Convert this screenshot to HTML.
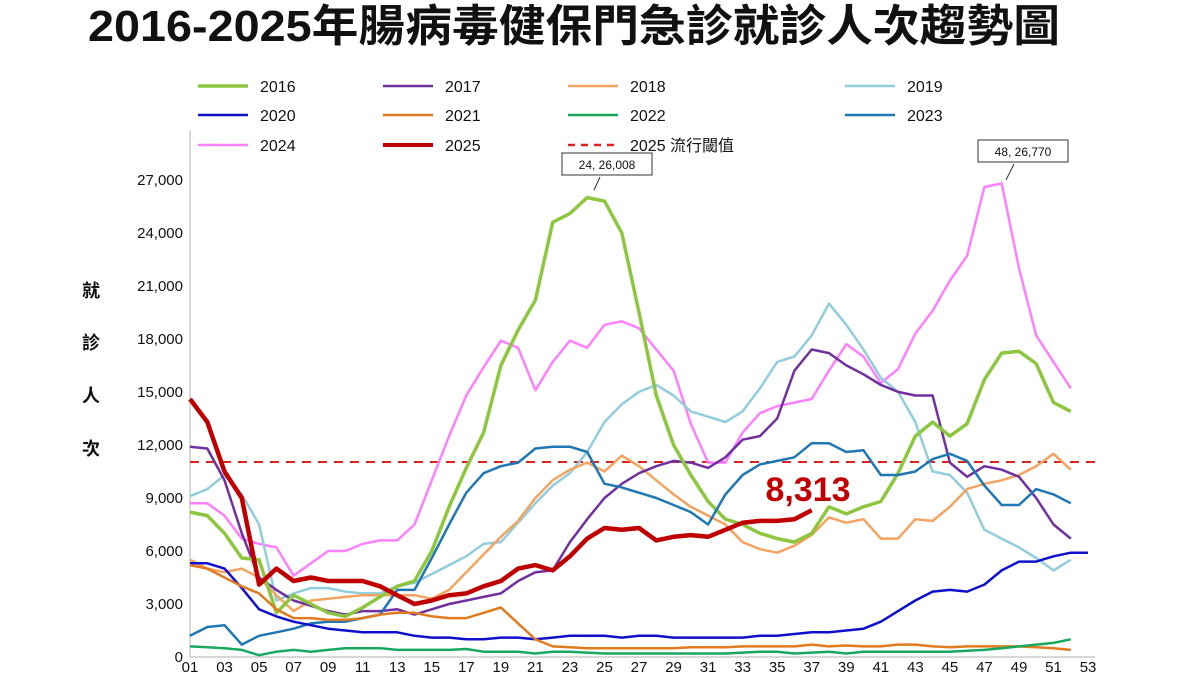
<!DOCTYPE html>
<html><head><meta charset="utf-8"><style>
body{margin:0;background:#fff;width:1200px;height:675px;overflow:hidden;font-family:"Liberation Sans","Noto Sans CJK TC",sans-serif}
</style></head><body>
<svg id="s" width="1200" height="675" xmlns="http://www.w3.org/2000/svg" font-family="Liberation Sans, Noto Sans CJK TC, sans-serif">
<text x="88" y="41" font-size="44" font-weight="bold" fill="#111" textLength="972" lengthAdjust="spacingAndGlyphs">2016-2025年腸病毒健保門急診就診人次趨勢圖</text>
<line x1="190" y1="130" x2="190" y2="657" stroke="#ccc" stroke-width="1.5"/>
<line x1="190" y1="657" x2="1095" y2="657" stroke="#ccc" stroke-width="1.5"/>
<g font-size="15" fill="#111" text-anchor="end" id="yl"></g>
<g font-size="15" fill="#111" text-anchor="middle" id="xl"></g>
<g font-size="18" font-weight="bold" fill="#111" text-anchor="middle">
<text x="91" y="297">就</text><text x="91" y="349">診</text><text x="91" y="402">人</text><text x="91" y="455">次</text></g>
<line x1="190" y1="462" x2="1100" y2="462" stroke="#d22" stroke-width="2" stroke-dasharray="9,7"/>
<g id="lines" fill="none" stroke-linejoin="round"></g>
<g font-size="16" fill="#111" id="leg"></g>
<rect x="562" y="153" width="90" height="22" fill="#fff" stroke="#333"/>
<text x="607" y="169" font-size="12" text-anchor="middle" fill="#111">24, 26,008</text>
<line x1="600" y1="177" x2="594" y2="190" stroke="#333"/>
<rect x="978" y="140" width="90" height="22" fill="#fff" stroke="#333"/>
<text x="1023" y="156" font-size="12" text-anchor="middle" fill="#111">48, 26,770</text>
<line x1="1014" y1="164" x2="1006" y2="180" stroke="#333"/>
<text x="808" y="501" font-size="34" font-weight="bold" text-anchor="middle" fill="#c00000">8,313</text>
</svg>
<script>
var NS="http://www.w3.org/2000/svg";
function el(p,t,a,txt){var e=document.createElementNS(NS,t);for(var k in a)e.setAttribute(k,a[k]);if(txt!=null)e.textContent=txt;document.getElementById(p).appendChild(e);return e;}
for(var i=0;i<=9;i++){var v=i*3000;el("yl","text",{x:183,y:657-i*53+5},v==0?"0":v.toLocaleString("en-US"));}
for(var w=1;w<=53;w+=2){el("xl","text",{x:190+(w-1)*17.27,y:672},(w<10?"0":"")+w);}
var S=[
["#ff80ff",2.5,[8.7,8.7,8.0,6.7,6.4,6.2,4.6,5.3,6.0,6.0,6.4,6.6,6.6,7.5,10.0,12.5,14.8,16.4,17.9,17.5,15.1,16.7,17.9,17.5,18.8,19.0,18.6,17.4,16.2,13.2,11.0,11.0,12.7,13.8,14.2,14.4,14.6,16.2,17.7,17.0,15.5,16.3,18.3,19.6,21.3,22.7,26.6,26.8,22.0,18.2,16.7,15.2]],
["#92cddc",2.5,[9.1,9.5,10.3,9.2,7.5,3.2,3.6,3.9,3.9,3.7,3.6,3.6,4.0,4.2,4.7,5.2,5.7,6.4,6.5,7.6,8.7,9.7,10.4,11.6,13.3,14.3,15.0,15.4,14.8,13.9,13.6,13.3,13.9,15.2,16.7,17.0,18.2,20.0,18.8,17.4,15.8,15.0,13.3,10.5,10.3,9.3,7.2,6.7,6.2,5.6,4.9,5.5]],
["#f4a460",2.5,[5.5,5.0,4.8,5.0,4.5,3.5,2.6,3.2,3.3,3.4,3.5,3.5,3.5,3.5,3.3,3.8,4.8,5.8,6.8,7.7,9.0,10.0,10.6,11.0,10.5,11.4,10.8,10.0,9.2,8.5,8.0,7.5,6.5,6.1,5.9,6.3,6.9,7.9,7.6,7.8,6.7,6.7,7.8,7.7,8.5,9.5,9.8,10.0,10.3,10.8,11.5,10.6]],
["#7030a0",2.5,[11.9,11.8,10.0,7.0,4.5,3.8,3.2,2.9,2.6,2.4,2.6,2.6,2.7,2.4,2.7,3.0,3.2,3.4,3.6,4.3,4.8,4.9,6.5,7.8,9.0,9.8,10.4,10.8,11.1,11.0,10.7,11.3,12.3,12.5,13.5,16.2,17.4,17.2,16.5,16.0,15.4,15.0,14.8,14.8,11.0,10.2,10.8,10.6,10.2,9.0,7.5,6.7]],
["#8dc63f",3.5,[8.2,8.0,7.0,5.6,5.5,2.5,3.5,3.0,2.5,2.3,2.8,3.4,4.0,4.3,6.0,8.5,10.7,12.7,16.5,18.5,20.2,24.6,25.1,26.0,25.8,24.0,19.5,14.8,12.0,10.3,8.8,7.8,7.5,7.0,6.7,6.5,7.0,8.5,8.1,8.5,8.8,10.4,12.5,13.3,12.5,13.2,15.7,17.2,17.3,16.6,14.4,13.9]],
["#1f77b4",2.5,[1.2,1.7,1.8,0.7,1.2,1.4,1.6,1.9,2.0,2.0,2.2,2.4,3.8,3.8,5.6,7.5,9.3,10.4,10.8,11.0,11.8,11.9,11.9,11.6,9.8,9.6,9.3,9.0,8.6,8.2,7.5,9.2,10.3,10.9,11.1,11.3,12.1,12.1,11.6,11.7,10.3,10.3,10.5,11.2,11.5,11.1,9.7,8.6,8.6,9.5,9.2,8.7]],
["#1010cc",2.5,[5.3,5.3,5.0,3.9,2.7,2.3,2.0,1.8,1.6,1.5,1.4,1.4,1.4,1.2,1.1,1.1,1.0,1.0,1.1,1.1,1.0,1.1,1.2,1.2,1.2,1.1,1.2,1.2,1.1,1.1,1.1,1.1,1.1,1.2,1.2,1.3,1.4,1.4,1.5,1.6,2.0,2.6,3.2,3.7,3.8,3.7,4.1,4.9,5.4,5.4,5.7,5.9,5.9]],
["#e07b20",2.5,[5.2,5.0,4.5,4.0,3.6,2.7,2.2,2.2,2.1,2.1,2.2,2.4,2.5,2.5,2.3,2.2,2.2,2.5,2.8,1.9,1.0,0.6,0.55,0.5,0.5,0.5,0.5,0.5,0.5,0.55,0.55,0.55,0.6,0.6,0.6,0.6,0.7,0.6,0.65,0.6,0.6,0.7,0.7,0.6,0.55,0.6,0.6,0.6,0.6,0.55,0.5,0.4]],
["#1aa860",2.5,[0.6,0.55,0.5,0.4,0.1,0.3,0.4,0.3,0.4,0.5,0.5,0.5,0.4,0.4,0.4,0.4,0.45,0.3,0.3,0.3,0.2,0.3,0.3,0.25,0.2,0.2,0.2,0.2,0.2,0.2,0.2,0.2,0.25,0.3,0.3,0.2,0.25,0.3,0.2,0.3,0.3,0.3,0.3,0.3,0.3,0.35,0.4,0.5,0.6,0.7,0.8,1.0]],
["#c00000",4.5,[14.6,13.3,10.5,9.0,4.1,5.0,4.3,4.5,4.3,4.3,4.3,4.0,3.5,3.0,3.2,3.5,3.6,4.0,4.3,5.0,5.2,4.9,5.7,6.7,7.3,7.2,7.3,6.6,6.8,6.9,6.8,7.2,7.6,7.7,7.7,7.8,8.3]]
];
S.forEach(function(s){var p=s[2].map(function(v,i){return (190+i*17.27).toFixed(1)+","+(657-v*17.67).toFixed(1)}).join(" ");el("lines","polyline",{points:p,stroke:s[0],"stroke-width":s[1]});});
var L=[["2016","#8dc63f",3.5,198,86],["2017","#7030a0",2.5,383,86],["2018","#f4a460",2.5,568,86],["2019","#92cddc",2.5,845,86],
["2020","#1010cc",2.5,198,115],["2021","#e07b20",2.5,383,115],["2022","#1aa860",2.5,568,115],["2023","#1f77b4",2.5,845,115],
["2024","#ff80ff",2.5,198,145],["2025","#c00000",4,383,145]];
L.forEach(function(l){el("leg","line",{x1:l[3],y1:l[4],x2:l[3]+50,y2:l[4],stroke:l[1],"stroke-width":l[2]});el("leg","text",{x:l[3]+62,y:l[4]+6},l[0]);});
el("leg","line",{x1:568,y1:145,x2:618,y2:145,stroke:"#d22","stroke-width":2.5,"stroke-dasharray":"7,6"});
el("leg","text",{x:630,y:151},"2025 流行閾值");
</script>
</body></html>
